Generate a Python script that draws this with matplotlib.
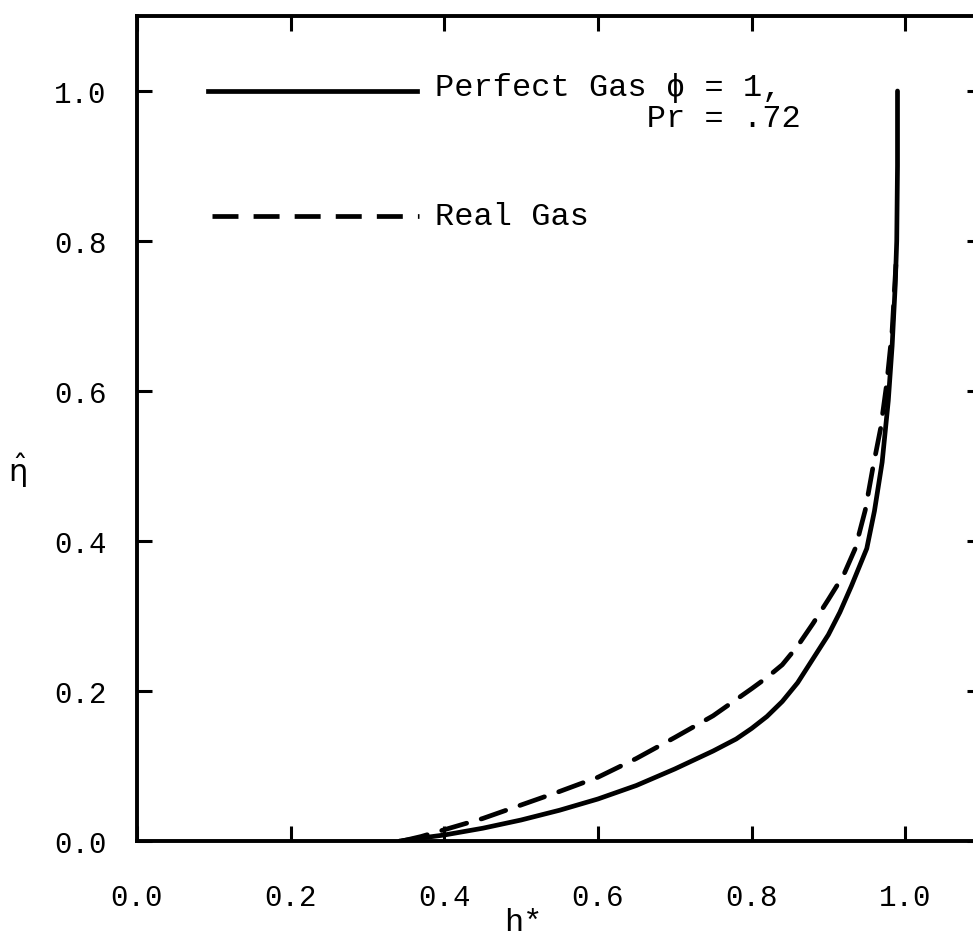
import numpy as np
import matplotlib.pyplot as plt

# Perfect gas (phi = 1, Pr = .72), solid curve
h_perfect = [0.342, 0.37, 0.40, 0.45, 0.50, 0.55, 0.60, 0.65, 0.70, 0.75,
             0.78, 0.80, 0.82, 0.84, 0.86, 0.88, 0.90, 0.915, 0.93, 0.94,
             0.95, 0.96, 0.97, 0.978, 0.983, 0.987, 0.989, 0.990, 0.990]
eta_perfect = [0.0, 0.004, 0.008, 0.017, 0.028, 0.041, 0.056, 0.074, 0.096,
               0.120, 0.136, 0.150, 0.166, 0.186, 0.211, 0.243, 0.275, 0.305,
               0.340, 0.365, 0.390, 0.440, 0.505, 0.587, 0.66, 0.74, 0.80,
               0.90, 1.0]

# Real gas, dashed curve
h_real = [0.345, 0.37, 0.40, 0.45, 0.50, 0.55, 0.60, 0.65, 0.70, 0.75,
          0.80, 0.82, 0.84, 0.86, 0.88, 0.90, 0.92, 0.935, 0.948, 0.958,
          0.968, 0.976, 0.983, 0.988]
eta_real = [0.0, 0.006, 0.015, 0.030, 0.048, 0.066, 0.085, 0.110, 0.138,
            0.167, 0.203, 0.218, 0.235, 0.260, 0.290, 0.322, 0.355, 0.39,
            0.441, 0.498, 0.55, 0.61, 0.68, 0.77]

xticks = [0.0, 0.2, 0.4, 0.6, 0.8, 1.0]
yticks = [0.0, 0.2, 0.4, 0.6, 0.8, 1.0]

mono = ['Liberation Mono', 'DejaVu Sans Mono']
plt.rcParams['font.family'] = mono

fig = plt.figure(figsize=(9.73, 9.37), dpi=100)
ax = fig.add_axes([137/973, 95/937, 845/973, 825/937])

ax.plot(h_perfect, eta_perfect, color='black', lw=3.4,
        solid_capstyle='round', solid_joinstyle='round')
ax.plot(h_real, eta_real, color='black', lw=3.4, dashes=(5.5, 3.2),
        dash_capstyle='round', dash_joinstyle='round')

# legend drawn by hand, as in the original figure
ax.plot([0.092, 0.365], [1.0, 1.0], color='black', lw=3.4)
ax.plot([0.097, 0.367], [0.833, 0.833], color='black', lw=3.4,
        dashes=(5.5, 3.2))
ax.text(0.388, 1.025, "Perfect Gas \u03d5 = 1,\n           Pr = .72",
        fontsize=23, va='top', ha='left', linespacing=1.05)
ax.text(0.388, 0.833, "Real Gas", fontsize=23, va='center', ha='left')

ax.set_xlim(0, 1.1)
ax.set_ylim(0, 1.1)
ax.set_xticks(xticks)
ax.set_yticks(yticks)
ax.set_xticklabels([f"{v:.1f}" for v in xticks])
ax.set_yticklabels([f"{v:.1f}" for v in yticks])
ax.tick_params(direction='in', length=11, width=2.2, top=True, right=True,
               labelsize=21)
ax.tick_params(axis='x', pad=30)
ax.tick_params(axis='y', pad=22)
for sp in ax.spines.values():
    sp.set_linewidth(2.8)

ax.text((523-137)/845, -0.098, "h*", fontsize=23, ha='center', va='center',
        transform=ax.transAxes)
ax.text(-0.142, 0.45, r"$\hat{\mathrm{\eta}}$", fontsize=22, ha='center',
        va='center', transform=ax.transAxes)

fig.savefig("out.png", dpi=100)
